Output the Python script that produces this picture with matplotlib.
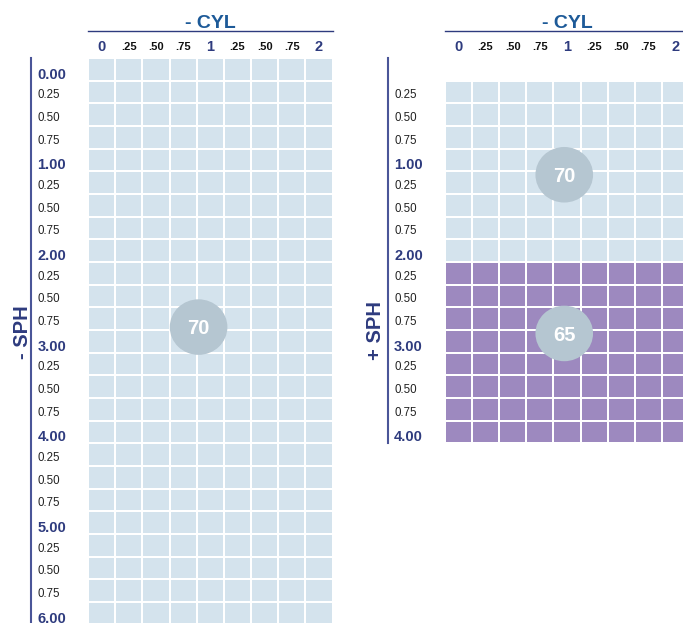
import matplotlib.pyplot as plt
import numpy as np
from matplotlib.colors import ListedColormap, BoundaryNorm
from matplotlib.patches import Ellipse

plt.rcParams['font.family'] = ['Liberation Sans', 'DejaVu Sans']

# dados
cyl_labels = ['0', '.25', '.50', '.75', '1', '.25', '.50', '.75', '2']
minus_sph_labels = ['0.00', '0.25', '0.50', '0.75', '1.00', '0.25', '0.50', '0.75',
                    '2.00', '0.25', '0.50', '0.75', '3.00', '0.25', '0.50', '0.75',
                    '4.00', '0.25', '0.50', '0.75', '5.00', '0.25', '0.50', '0.75', '6.00']
plus_sph_labels = ['0.25', '0.50', '0.75', '1.00', '0.25', '0.50', '0.75', '2.00',
                   '0.25', '0.50', '0.75', '3.00', '0.25', '0.50', '0.75', '4.00']
minus_zone = [70, 70, 70, 70, 70, 70, 70, 70, 70, 70, 70, 70, 70,
              70, 70, 70, 70, 70, 70, 70, 70, 70, 70, 70, 70]
plus_zone = [70, 70, 70, 70, 70, 70, 70, 70, 65, 65, 65, 65, 65, 65, 65, 65]
# posicao dos selos (coluna, linha, indice)
minus_marks = [(4.07, 11.87, 70)]
plus_marks = [(4.4, 5.15, 70), (4.4, 12.15, 65)]

zone_colors = {70: '#d4e3ed', 65: '#9d89bf'}
navy = '#2e3b7e'
title_blue = '#1d5a98'
circle_col = '#b5c6d1'

W, H = 683, 623
fig = plt.figure(figsize=(W / 100, H / 100), dpi=100)

col_w = 27.17
row_h = 22.67
top_px = 58


def make_axes(left_px):
    ax = fig.add_axes([left_px / W, 0, 9 * col_w / W, (H - top_px) / H])
    ax.set_xlim(0, 9)
    ax.set_ylim((H - top_px) / row_h, 0)
    ax.axis('off')
    return ax


def draw_panel(ax, zone, sph_labels, row0, marks, line_end, sph_title, sph_x, sph_y):
    zones = sorted(zone_colors)
    cmap = ListedColormap([zone_colors[z] for z in zones])
    norm = BoundaryNorm(np.array(zones + [zones[-1] + 1]) - 0.5, cmap.N)
    Z = np.repeat(np.array(zone)[:, None], len(cyl_labels), axis=1)
    xe = np.arange(len(cyl_labels) + 1)
    ye = np.arange(row0, row0 + len(zone) + 1)
    ax.pcolormesh(xe, ye, Z, cmap=cmap, norm=norm, edgecolors='white', linewidth=1.2)

    # cabecalho CYL
    ax.text(4.5, -1.5, '- CYL', ha='center', va='center', fontsize=14,
            fontweight='bold', color=title_blue, clip_on=False)
    ax.plot([0, 9], [-1.21, -1.21], color=navy, lw=1.0, clip_on=False)
    for i, lab in enumerate(cyl_labels):
        if lab.startswith('.'):
            ax.text(i + 0.5, -0.5, lab, ha='center', va='center', fontsize=8,
                    fontweight='bold', color='#111111', clip_on=False)
        else:
            ax.text(i + 0.5, -0.5, lab, ha='center', va='center', fontsize=10.5,
                    fontweight='bold', color=navy, clip_on=False)

    # eixo SPH
    tr = ax.get_yaxis_transform()
    ax.plot([-0.233, -0.233], [0, line_end], color='#4a5598', lw=1.5,
            transform=tr, clip_on=False)
    for i, lab in enumerate(sph_labels):
        y = row0 + i + 0.5
        if lab.endswith('.00'):
            ax.text(-0.207, y + 0.24, lab, ha='left', va='center', fontsize=10.5,
                    fontweight='bold', color=navy, transform=tr, clip_on=False)
        else:
            ax.text(-0.205, y + 0.15, lab, ha='left', va='center', fontsize=8.3,
                    color='#222222', transform=tr, clip_on=False)
    ax.text(sph_x, sph_y, sph_title, ha='center', va='center', rotation=90,
            fontsize=14.5, fontweight='bold', color=navy, transform=tr, clip_on=False)

    for cx, cy, val in marks:
        ax.add_patch(Ellipse((cx, cy), 2.12, 2.45, facecolor=circle_col,
                             edgecolor='none', zorder=3))
        ax.text(cx, cy + 0.08, str(val), ha='center', va='center', fontsize=14.5,
                fontweight='bold', color='white', zorder=4)


ax1 = make_axes(88)
draw_panel(ax1, minus_zone, minus_sph_labels, 0, minus_marks,
           (H - top_px) / row_h, '- SPH', -0.268, 12.09)

ax2 = make_axes(444.7)
draw_panel(ax2, plus_zone, plus_sph_labels, 1, plus_marks,
           17, '+ SPH', -0.283, 12.04)

fig.savefig('out.png', dpi=100)
